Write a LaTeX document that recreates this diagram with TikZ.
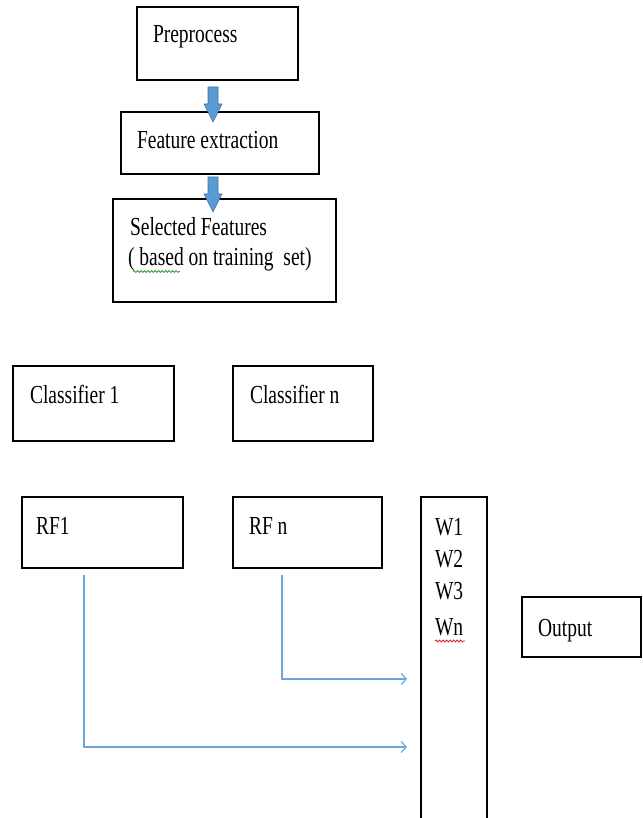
\documentclass[tikz,border=0pt]{standalone}
\usepackage{fontspec}
\setmainfont{Liberation Serif}[FakeStretch=0.75]
\usetikzlibrary{arrows.meta,decorations.pathmorphing}

\definecolor{flowblue}{HTML}{5B9BD5}
\definecolor{flowedge}{HTML}{41719C}
\definecolor{linkblue}{HTML}{6FA5DC}
\definecolor{spellred}{HTML}{E02020}
\definecolor{grammargreen}{HTML}{30A030}

\tikzset{
  box/.style={draw=black, line width=1.3pt, inner sep=0pt, outer sep=0pt, fill=white},
  lbl/.style={anchor=base west, inner sep=0pt, outer sep=0pt,
              font=\fontsize{26}{30}\selectfont},
  link/.style={draw=linkblue, line width=1.2pt,
               -{Straight Barb[length=5pt,width=11pt,line width=1.2pt]}},
  squiggle/.style={decorate, decoration={snake, amplitude=1pt, segment length=3.5pt},
                   line width=0.8pt},
  pics/blockdown/.style={code={
    \filldraw[fill=flowblue, draw=flowedge, line width=0.6pt]
      (-5,0) -- (5,0) -- (5,17) -- (9,17) -- (0,35) -- (-9,17) -- (-5,17) -- cycle;
  }}
}

\begin{document}
\begin{tikzpicture}[x=1pt, y=-1pt]
\clip (0,0) rectangle (642,818);
\fill[white] (0,0) rectangle (642,818);

% processing chain
\node[box, minimum width=161pt, minimum height=73pt]  (pre) at (217.5,43.5) {};
\node[box, minimum width=198pt, minimum height=62pt]  (fe)  at (220,143) {};
\node[box, minimum width=223pt, minimum height=103pt] (sel) at (224.5,250.5) {};

\node[lbl] (pre-t)  at (153,43)  {Preprocess};
\node[lbl] (fe-t)   at (137,149) {Feature extraction};
\node[lbl] (sel-t1) at (130,235) {Selected Features};
\node[lbl] (sel-t2) at (128,265) {( based on training~ set)};

% block arrows between the stages
\coordinate (a1) at ([xshift=-4.5pt, yshift=-7pt]pre.south);
\coordinate (a2) at ([xshift=-7pt, yshift=-3pt]fe.south);
\pic at (a1) {blockdown};
\pic at (a2) {blockdown};

% classifiers
\node[box, minimum width=161pt, minimum height=75pt] (c1) at (93.5,403.5) {};
\node[box, minimum width=140pt, minimum height=75pt] (cn) at (303,403.5) {};
\node[lbl] (c1-t) at (30,403)  {Classifier 1};
\node[lbl] (cn-t) at (250,403) {Classifier n};

% random forests
\node[box, minimum width=161pt, minimum height=71pt] (rf1) at (102.5,532.5) {};
\node[box, minimum width=149pt, minimum height=71pt] (rfn) at (307.5,532.5) {};
\node[lbl] (rf1-t) at (36,534)  {RF1};
\node[lbl] (rfn-t) at (249,534) {RF n};

% weights column and output
\node[box, minimum width=66pt, minimum height=340pt] (w) at (454,667) {};
\node[lbl] (w1) at (435,535) {W1};
\node[lbl] (w2) at (435,567) {W2};
\node[lbl] (w3) at (435,599) {W3};
\node[lbl] (wn) at (435,635) {Wn};

\node[box, minimum width=119pt, minimum height=60pt] (out) at (581.5,627) {};
\node[lbl] (out-t) at (538,636) {Output};

% links into the weights column
\coordinate (rf1-s) at ([xshift=-18.5pt, yshift=-7pt]rf1.south);
\coordinate (rfn-s) at ([xshift=-25.5pt, yshift=-7pt]rfn.south);
\coordinate (w-in1) at ([xshift=-14pt]w.west |- 0,747);
\coordinate (w-in2) at ([xshift=-14pt]w.west |- 0,679);
\draw[link] (rfn-s) |- (w-in2);
\draw[link] (rf1-s) |- (w-in1);

% proofing marks under the text
\draw[squiggle, draw=grammargreen] (133,271.5) -- (180,271.5);
\draw[squiggle, draw=spellred] (435,641) -- (465,641);
\end{tikzpicture}
\end{document}
